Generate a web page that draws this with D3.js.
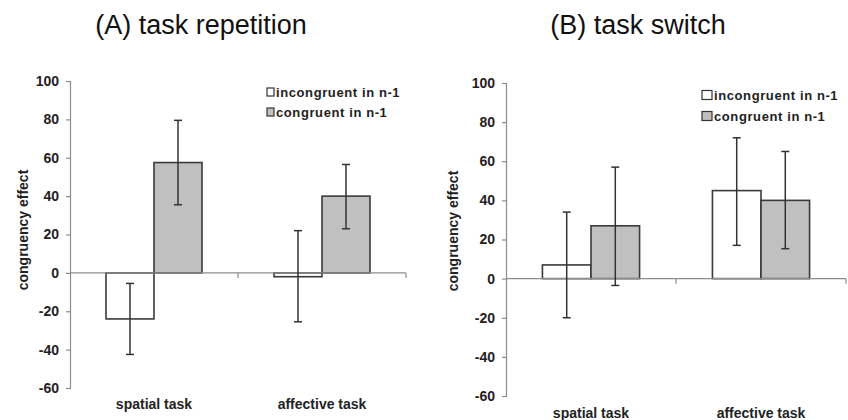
<!DOCTYPE html>
<html>
<head>
<meta charset="utf-8">
<script src="https://cdn.jsdelivr.net/npm/d3@7/dist/d3.min.js"></script>
<style>
  html, body { margin: 0; padding: 0; background: #fff; }
  svg { display: block; font-family: "Liberation Sans", Arial, sans-serif; }
</style>
</head>
<body>
<svg id="chart" width="848" height="420"></svg>
<script>
// ---- data ----
const categories = ["spatial task", "affective task"];
const seriesNames = ["incongruent in n-1", "congruent in n-1"];
const yTicks = [-60, -40, -20, 0, 20, 40, 60, 80, 100];
const titles = ["(A) task repetition", "(B) task switch"];
const yTitle = "congruency effect";

// (A) task repetition
const repIncongruent = [-24, -2];
const repIncongruentLow = [-42.5, -25.5];
const repIncongruentHigh = [-5.5, 22];
const repCongruent = [57.5, 40];
const repCongruentLow = [35.5, 23];
const repCongruentHigh = [79.5, 56.5];

// (B) task switch
const swIncongruent = [7, 45];
const swIncongruentLow = [-20, 17];
const swIncongruentHigh = [34, 72];
const swCongruent = [27, 40];
const swCongruentLow = [-3.5, 15.3];
const swCongruentHigh = [57, 65];

const seriesFill = ["#ffffff", "#c0c0c0"];

// ---- layout (not data) ----
const panels = [
  {
    title: titles[0], titleX: 201, titleY: 34,
    x0: 70, x1: 406, yTop: 81, yBottom: 388,
    yTitleX: 23, yTitleY: 230, catY: 409,
    legX: 267, legY: 92, legGap: 20, sq: [7, 8],
    vals: [repIncongruent, repCongruent],
    lows: [repIncongruentLow, repCongruentLow],
    highs: [repIncongruentHigh, repCongruentHigh]
  },
  {
    title: titles[1], titleX: 638, titleY: 34,
    x0: 506, x1: 846, yTop: 83, yBottom: 396,
    yTitleX: 453, yTitleY: 231, catY: 418,
    legX: 702, legY: 95, legGap: 21, sq: [10, 9],
    vals: [swIncongruent, swCongruent],
    lows: [swIncongruentLow, swCongruentLow],
    highs: [swIncongruentHigh, swCongruentHigh]
  }
];

const svg = d3.select("#chart");
const axisColor = "#8c8c8c";
const barStroke = "#3a3a3a";

panels.forEach(p => {
  const g = svg.append("g");
  const y = d3.scaleLinear().domain([-60, 100]).range([p.yBottom, p.yTop]);
  const x0 = d3.scaleBand().domain(categories).range([p.x0, p.x1]).padding(0);
  const x1 = d3.scaleBand().domain(seriesNames).range([0, x0.bandwidth()])
    .paddingInner(0).paddingOuter(0.75);

  // title
  g.append("text").attr("x", p.titleX).attr("y", p.titleY)
    .attr("text-anchor", "middle").attr("font-size", 27).attr("fill", "#111")
    .text(p.title);

  // y axis
  const yAxis = g.append("g").attr("transform", `translate(${p.x0},0)`)
    .call(d3.axisLeft(y).tickValues(yTicks).tickFormat(d => String(d))
      .tickSize(4).tickPadding(7));
  yAxis.select(".domain").attr("stroke", axisColor).attr("stroke-width", 1.2);
  yAxis.selectAll(".tick line").attr("stroke", axisColor).attr("stroke-width", 1.2);
  yAxis.selectAll(".tick text").attr("font-size", 14).attr("font-weight", "bold")
    .attr("fill", "#222").attr("font-family", "'Liberation Sans', Arial, sans-serif");

  // y title
  g.append("text")
    .attr("transform", `translate(${p.yTitleX},${p.yTitleY}) rotate(-90)`)
    .attr("text-anchor", "middle").attr("dy", "0.35em")
    .attr("font-size", 14).attr("font-weight", "bold").attr("fill", "#222")
    .text(yTitle);

  // bars
  seriesNames.forEach((s, si) => {
    g.selectAll(null).data(categories).enter().append("rect")
      .attr("x", c => x0(c) + x1(s))
      .attr("width", x1.bandwidth())
      .attr("y", (c, i) => y(Math.max(0, p.vals[si][i])))
      .attr("height", (c, i) => Math.abs(y(p.vals[si][i]) - y(0)))
      .attr("fill", seriesFill[si])
      .attr("stroke", barStroke).attr("stroke-width", 1.6);
  });

  // x axis line at zero with ticks at band boundaries
  const xAxisG = g.append("g");
  xAxisG.append("line")
    .attr("x1", p.x0).attr("x2", p.x1).attr("y1", y(0)).attr("y2", y(0))
    .attr("stroke", axisColor).attr("stroke-width", 1.2);
  const bounds = categories.map(c => x0(c) + x0.bandwidth());
  xAxisG.selectAll(null).data(bounds).enter().append("line")
    .attr("x1", d => d).attr("x2", d => d)
    .attr("y1", y(0)).attr("y2", y(0) + 5)
    .attr("stroke", axisColor).attr("stroke-width", 1.2);

  // error bars
  const cap = 4;
  seriesNames.forEach((s, si) => {
    categories.forEach((c, i) => {
      const cx = x0(c) + x1(s) + x1.bandwidth() / 2;
      const lo = y(p.lows[si][i]), hi = y(p.highs[si][i]);
      g.append("line").attr("x1", cx).attr("x2", cx).attr("y1", lo).attr("y2", hi)
        .attr("stroke", "#333").attr("stroke-width", 1.5);
      [lo, hi].forEach(v => {
        g.append("line").attr("x1", cx - cap).attr("x2", cx + cap)
          .attr("y1", v).attr("y2", v)
          .attr("stroke", "#333").attr("stroke-width", 1.5);
      });
    });
  });

  // category labels
  g.selectAll(null).data(categories).enter().append("text")
    .attr("x", c => x0(c) + x0.bandwidth() / 2)
    .attr("y", p.catY)
    .attr("text-anchor", "middle")
    .attr("font-size", 14).attr("font-weight", "bold").attr("fill", "#222")
    .text(c => c);

  // legend
  seriesNames.forEach((s, si) => {
    const cy = p.legY + si * p.legGap;
    g.append("rect")
      .attr("x", p.legX).attr("y", cy - p.sq[1] / 2)
      .attr("width", p.sq[0]).attr("height", p.sq[1])
      .attr("fill", seriesFill[si]).attr("stroke", "#333").attr("stroke-width", 1.2);
    g.append("text")
      .attr("x", p.legX + p.sq[0] + 2).attr("y", cy).attr("dy", "0.36em")
      .attr("font-size", 13).attr("font-weight", "bold").attr("fill", "#222")
      .attr("letter-spacing", 0.6)
      .text(s);
  });
});
</script>
</body>
</html>
